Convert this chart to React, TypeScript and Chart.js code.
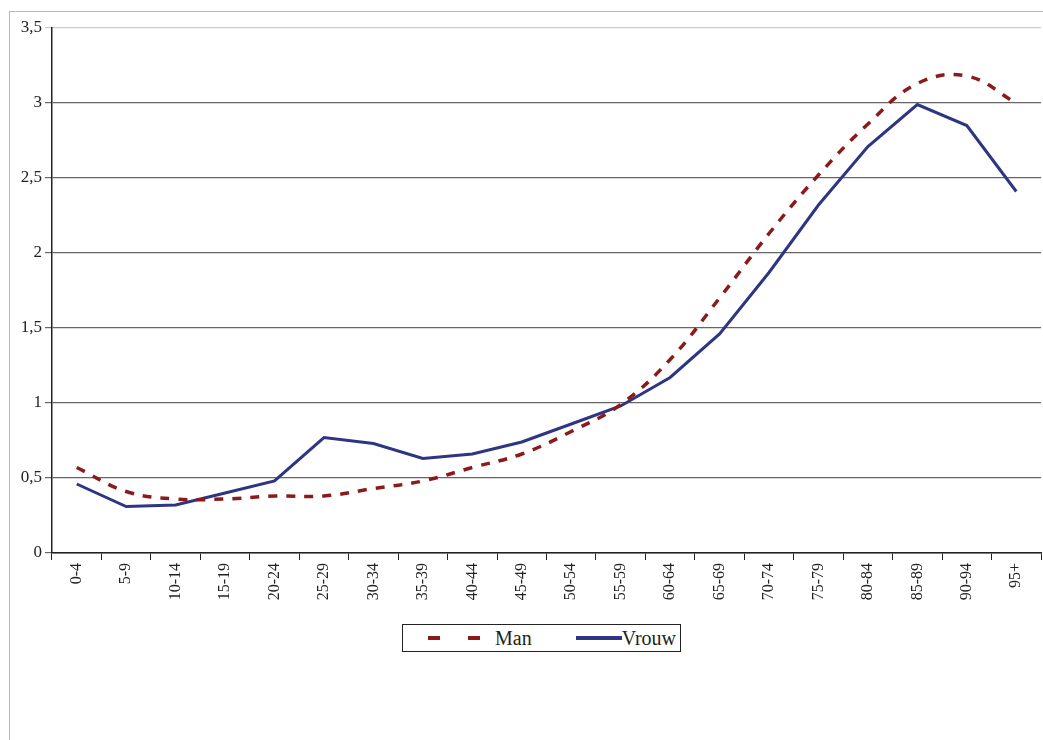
import React, { useEffect, useRef } from 'react';
import { Chart, registerables } from 'chart.js';

Chart.register(...registerables);

const categories = ['0-4', '5-9', '10-14', '15-19', '20-24', '25-29', '30-34', '35-39', '40-44', '45-49',
  '50-54', '55-59', '60-64', '65-69', '70-74', '75-79', '80-84', '85-89', '90-94', '95+'];
const manValues = [0.57, 0.41, 0.36, 0.36, 0.38, 0.38, 0.43, 0.48, 0.57, 0.66,
  0.81, 0.99, 1.29, 1.70, 2.13, 2.52, 2.86, 3.13, 3.18, 3.00];
const vrouwValues = [0.46, 0.31, 0.32, 0.40, 0.48, 0.77, 0.73, 0.63, 0.66, 0.74,
  0.86, 0.98, 1.17, 1.46, 1.87, 2.32, 2.71, 2.99, 2.85, 2.41];

const FONT = '"Liberation Serif", "DejaVu Serif", serif';

function App() {
  const canvasRef = useRef<HTMLCanvasElement>(null);

  useEffect(() => {
    if (!canvasRef.current) return;
    const chart = new Chart(canvasRef.current, {
      type: 'line',
      data: {
        labels: categories,
        datasets: [
          {
            label: 'Man',
            data: manValues,
            borderColor: '#8b1a1a',
            borderWidth: 3.5,
            borderDash: [9, 9],
            tension: 0.4,
            pointRadius: 0,
          },
          {
            label: 'Vrouw',
            data: vrouwValues,
            borderColor: '#2e3582',
            borderWidth: 3,
            tension: 0,
            pointRadius: 0,
          },
        ],
      },
      options: {
        animation: false,
        responsive: false,
        layout: { padding: { top: 20, right: 2, left: 0 } },
        plugins: { legend: { display: false }, tooltip: { enabled: false } },
        scales: {
          x: {
            offset: true,
            afterFit: (s) => { s.height = 52; },
            grid: { offset: true, drawOnChartArea: false, color: '#222', tickLength: 7 },
            border: { color: '#222', width: 1.5 },
            ticks: { minRotation: 90, maxRotation: 90, color: '#222', font: { family: FONT, size: 16 } },
          },
          y: {
            min: 0,
            max: 3.5,
            afterFit: (s) => { s.width = 52; },
            ticks: {
              stepSize: 0.5,
              color: '#222',
              font: { family: FONT, size: 17 },
              callback: (v) => String(v).replace('.', ','),
            },
            grid: {
              color: (ctx) => (ctx.tick && ctx.tick.value === 3.5 ? '#ccc' : '#666'),
              lineWidth: 1.2,
              tickLength: 7,
            },
            border: { color: '#222', width: 1.5 },
          },
        },
      },
    });
    return () => chart.destroy();
  }, []);

  return (
    <div style={{ position: 'absolute', left: 0, top: 0, width: 1043, height: 740, background: '#fff', fontFamily: FONT }}>
      <div style={{ position: 'absolute', left: 9, top: 11, width: 1040, height: 740, borderLeft: '1px solid #9cc3e4', borderTop: '1px solid #9cc3e4' }} />
      <canvas ref={canvasRef} width={1043} height={597} style={{ position: 'absolute', left: 0, top: 8 }} />
      <div style={{ position: 'absolute', left: 402, top: 624, width: 277, height: 26, border: '1px solid #222', display: 'flex', alignItems: 'center', fontSize: 20, color: '#222' }}>
        <span style={{ marginLeft: 25, width: 52, height: 4, background: 'repeating-linear-gradient(90deg, #8b1a1a 0 12px, transparent 12px 40px)' }} />
        <span style={{ marginLeft: 15 }}>Man</span>
        <span style={{ marginLeft: 44, width: 46, height: 4, background: '#2e3582' }} />
        <span>Vrouw</span>
      </div>
    </div>
  );
}

export default App;
